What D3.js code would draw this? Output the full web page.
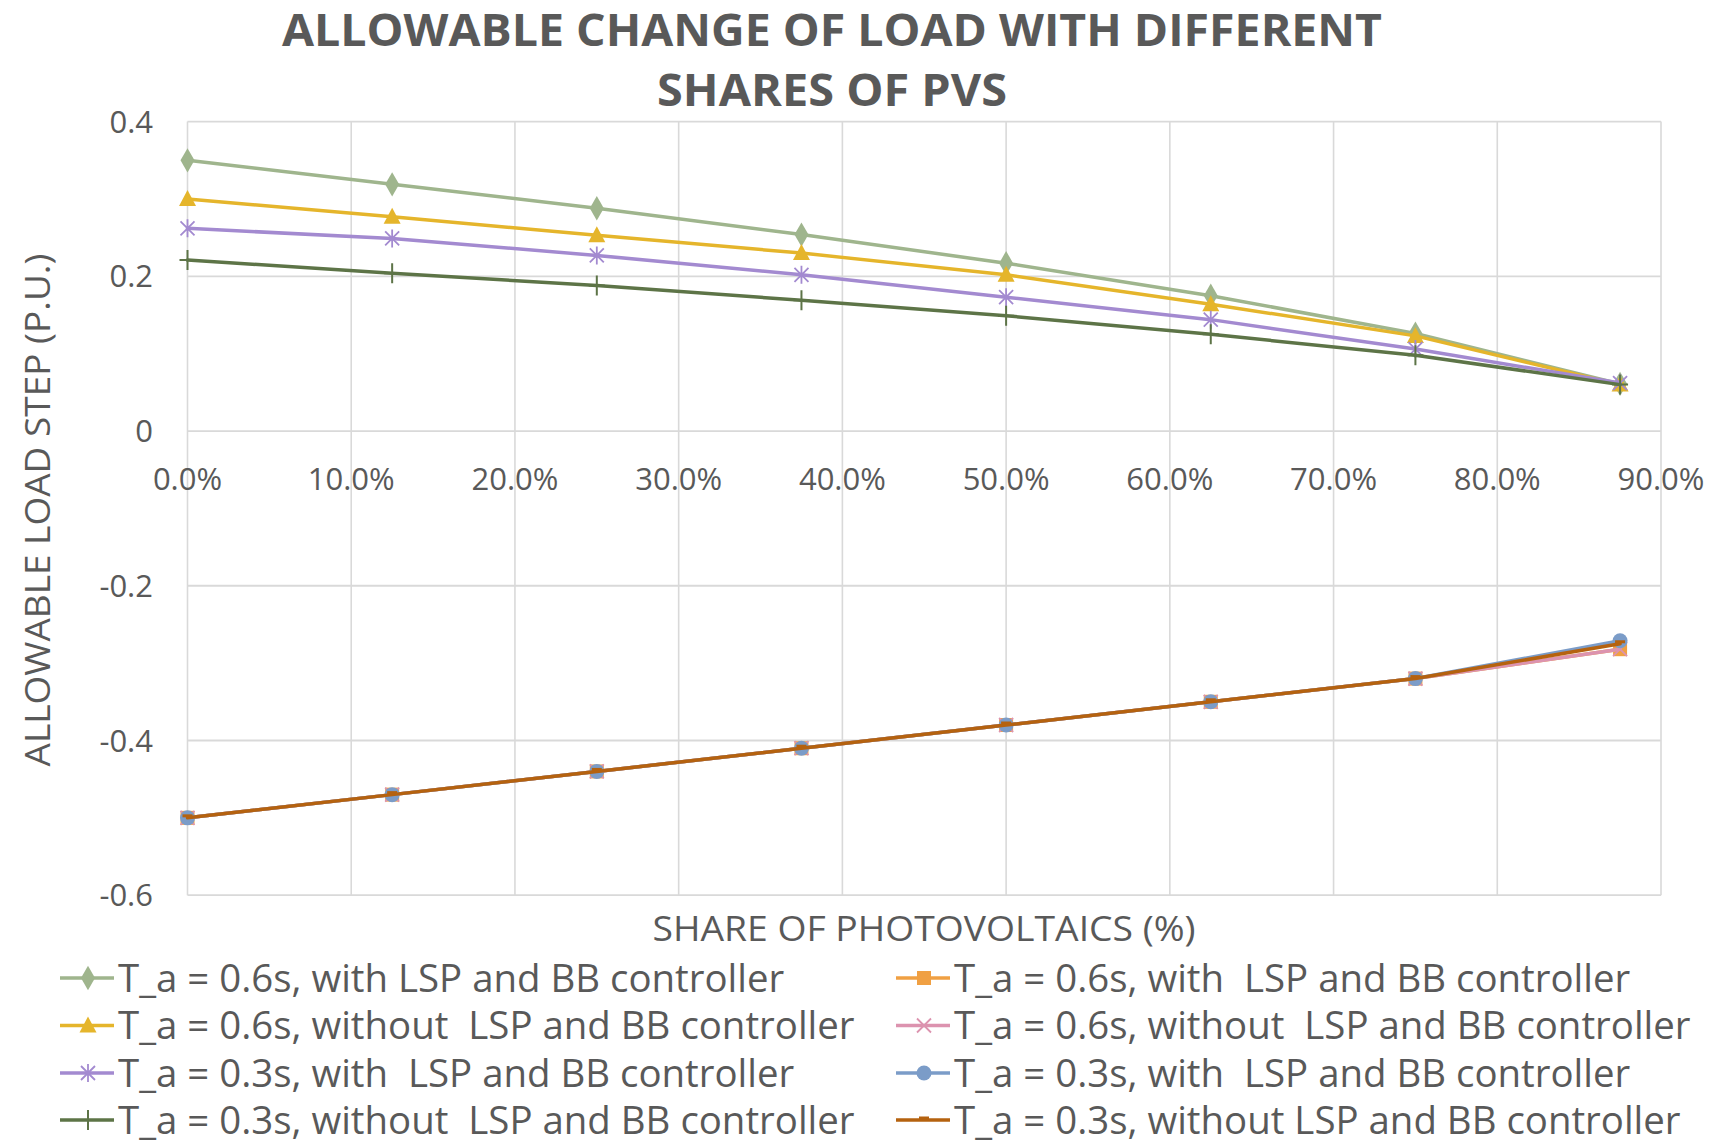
<!DOCTYPE html>
<html><head><meta charset="utf-8">
<script src="https://cdn.jsdelivr.net/npm/d3@7"></script>
<style>
html,body{margin:0;padding:0;background:#fff;}
svg{display:block;}
text{font-family:"Open Sans",sans-serif;fill:#595959;white-space:pre;}
</style></head>
<body>
<svg id="chart" width="1718" height="1146"></svg>
<script>
// ---- data ----
const shares = [0, 0.125, 0.25, 0.375, 0.5, 0.625, 0.75, 0.875];
const s1 = [0.350, 0.319, 0.288, 0.254, 0.217, 0.175, 0.126, 0.061];
const s2 = [0.300, 0.277, 0.253, 0.230, 0.202, 0.164, 0.123, 0.060];
const s3 = [0.262, 0.249, 0.227, 0.202, 0.173, 0.144, 0.106, 0.062];
const s4 = [0.221, 0.204, 0.188, 0.169, 0.149, 0.125, 0.098, 0.060];
const s5 = [-0.500, -0.470, -0.440, -0.410, -0.380, -0.350, -0.320, -0.282];
const s6 = [-0.500, -0.470, -0.440, -0.410, -0.380, -0.350, -0.320, -0.282];
const s7 = [-0.500, -0.470, -0.440, -0.410, -0.380, -0.350, -0.320, -0.271];
const s8 = [-0.500, -0.470, -0.440, -0.410, -0.380, -0.350, -0.320, -0.275];
const seriesNames = [
  "T_a = 0.6s, with LSP and BB controller",
  "T_a = 0.6s, without  LSP and BB controller",
  "T_a = 0.3s, with  LSP and BB controller",
  "T_a = 0.3s, without  LSP and BB controller",
  "T_a = 0.6s, with  LSP and BB controller",
  "T_a = 0.6s, without  LSP and BB controller",
  "T_a = 0.3s, with  LSP and BB controller",
  "T_a = 0.3s, without LSP and BB controller"
];
const seriesValues = [s1, s2, s3, s4, s5, s6, s7, s8];
const seriesColors = ["#9FB58D", "#E5B52B", "#A38AD0", "#5D7447", "#F0A043", "#DC93AF", "#7B9CC8", "#B5620F"];
const seriesMarkers = ["diamond", "triangle", "asterisk", "plus", "square", "x", "circle", "dash"];
const xTicks = [0, 0.1, 0.2, 0.3, 0.4, 0.5, 0.6, 0.7, 0.8, 0.9];
const yTicks = [0.4, 0.2, 0, -0.2, -0.4, -0.6];
const yTickLabels = ["0.4", "0.2", "0", "-0.2", "-0.4", "-0.6"];
const titleLines = ["ALLOWABLE CHANGE OF LOAD WITH DIFFERENT", "SHARES OF PVS"];

// ---- layout ----
const svg = d3.select("#chart");
const L = 187.5, R = 1661, T = 121.6, B = 895.2;
const x = d3.scaleLinear().domain([0, 0.9]).range([L, R]);
const y = d3.scaleLinear().domain([-0.6, 0.4]).range([B, T]);

// gridlines
const grid = svg.append("g");
grid.selectAll("line.v").data(xTicks).enter().append("line")
  .attr("x1", d => x(d)).attr("x2", d => x(d)).attr("y1", T).attr("y2", B)
  .attr("stroke", "#D9D9D9").attr("stroke-width", 1.6);
grid.selectAll("line.h").data(yTicks).enter().append("line")
  .attr("x1", L).attr("x2", R).attr("y1", d => y(d)).attr("y2", d => y(d))
  .attr("stroke", "#D9D9D9").attr("stroke-width", 1.8);

// y tick labels
svg.append("g").selectAll("text").data(yTicks).enter().append("text")
  .attr("x", 153).attr("y", d => y(d)).attr("dy", "0.36em")
  .attr("text-anchor", "end").attr("font-size", 31)
  .text((d, i) => yTickLabels[i]);

// x tick labels (below zero line)
svg.append("g").selectAll("text").data(xTicks).enter().append("text")
  .attr("x", d => x(d)).attr("y", y(0) + 59)
  .attr("text-anchor", "middle").attr("font-size", 31)
  .text(d => d3.format(".1%")(d));

// title
svg.append("g").selectAll("text").data(titleLines).enter().append("text")
  .attr("x", 832).attr("y", (d, i) => 46 + i * 60)
  .attr("text-anchor", "middle").attr("font-size", 44).attr("font-weight", "bold")
  .attr("textLength", (d, i) => i === 0 ? 1100 : 350).attr("lengthAdjust", "spacingAndGlyphs")
  .text(d => d);

// axis titles
svg.append("text").attr("x", 924).attr("y", 941).attr("text-anchor", "middle")
  .attr("font-size", 35).attr("textLength", 543).attr("lengthAdjust", "spacingAndGlyphs")
  .text("SHARE OF PHOTOVOLTAICS (%)");
svg.append("text").attr("transform", "translate(50,510) rotate(-90)").attr("text-anchor", "middle")
  .attr("font-size", 35).attr("textLength", 513).attr("lengthAdjust", "spacingAndGlyphs")
  .text("ALLOWABLE LOAD STEP (P.U.)");

// marker drawing
function drawMarker(g, type, color) {
  switch (type) {
    case "diamond":
      g.append("path").attr("d", d3.symbol(d3.symbolDiamond, 170)()).attr("fill", color);
      break;
    case "triangle":
      g.append("path").attr("d", "M0,-9 L8.5,7 L-8.5,7 Z").attr("fill", color);
      break;
    case "asterisk":
      g.append("path").attr("d", "M-7,-7 L7,7 M-7,7 L7,-7 M0,-9 L0,9")
        .attr("stroke", color).attr("stroke-width", 1.8).attr("fill", "none");
      break;
    case "plus":
      g.append("path").attr("d", "M0,-10 L0,10 M-8,0 L8,0")
        .attr("stroke", color).attr("stroke-width", 2).attr("fill", "none");
      break;
    case "square":
      g.append("rect").attr("x", -7).attr("y", -7).attr("width", 14).attr("height", 14).attr("fill", color);
      break;
    case "x":
      g.append("path").attr("d", "M-7,-7 L7,7 M-7,7 L7,-7")
        .attr("stroke", color).attr("stroke-width", 1.8).attr("fill", "none");
      break;
    case "circle":
      g.append("circle").attr("r", 7.5).attr("fill", color);
      break;
    case "dash":
      g.append("rect").attr("x", -5).attr("y", -3.5).attr("width", 10).attr("height", 3).attr("fill", color);
      break;
  }
}

// series
const line = d3.line().x((d, i) => x(shares[i])).y(d => y(d));
const plot = svg.append("g");
seriesValues.forEach((vals, si) => {
  const g = plot.append("g");
  g.append("path").datum(vals).attr("d", line).attr("fill", "none")
    .attr("stroke", seriesColors[si]).attr("stroke-width", 3.5)
    .attr("stroke-linejoin", "round").attr("stroke-linecap", "round");
  vals.forEach((v, i) => {
    const m = g.append("g").attr("transform", `translate(${x(shares[i])},${y(v)})`);
    drawMarker(m, seriesMarkers[si], seriesColors[si]);
  });
});

// legend
const legend = svg.append("g");
const rowY = [978, 1025.5, 1073, 1120];
seriesNames.forEach((name, si) => {
  const col = si < 4 ? 0 : 1;
  const row = si % 4;
  const x0 = col === 0 ? 60 : 896;
  const g = legend.append("g").attr("transform", `translate(${x0},${rowY[row]})`);
  g.append("line").attr("x1", 0).attr("x2", 54).attr("y1", 0).attr("y2", 0)
    .attr("stroke", seriesColors[si]).attr("stroke-width", 3.5);
  const m = g.append("g").attr("transform", "translate(28,0)");
  drawMarker(m, seriesMarkers[si], seriesColors[si]);
  g.append("text").attr("x", 58).attr("y", 0).attr("dy", "0.36em")
    .attr("font-size", 38.4).attr("xml:space", "preserve").text(name);
});
</script>
</body></html>
